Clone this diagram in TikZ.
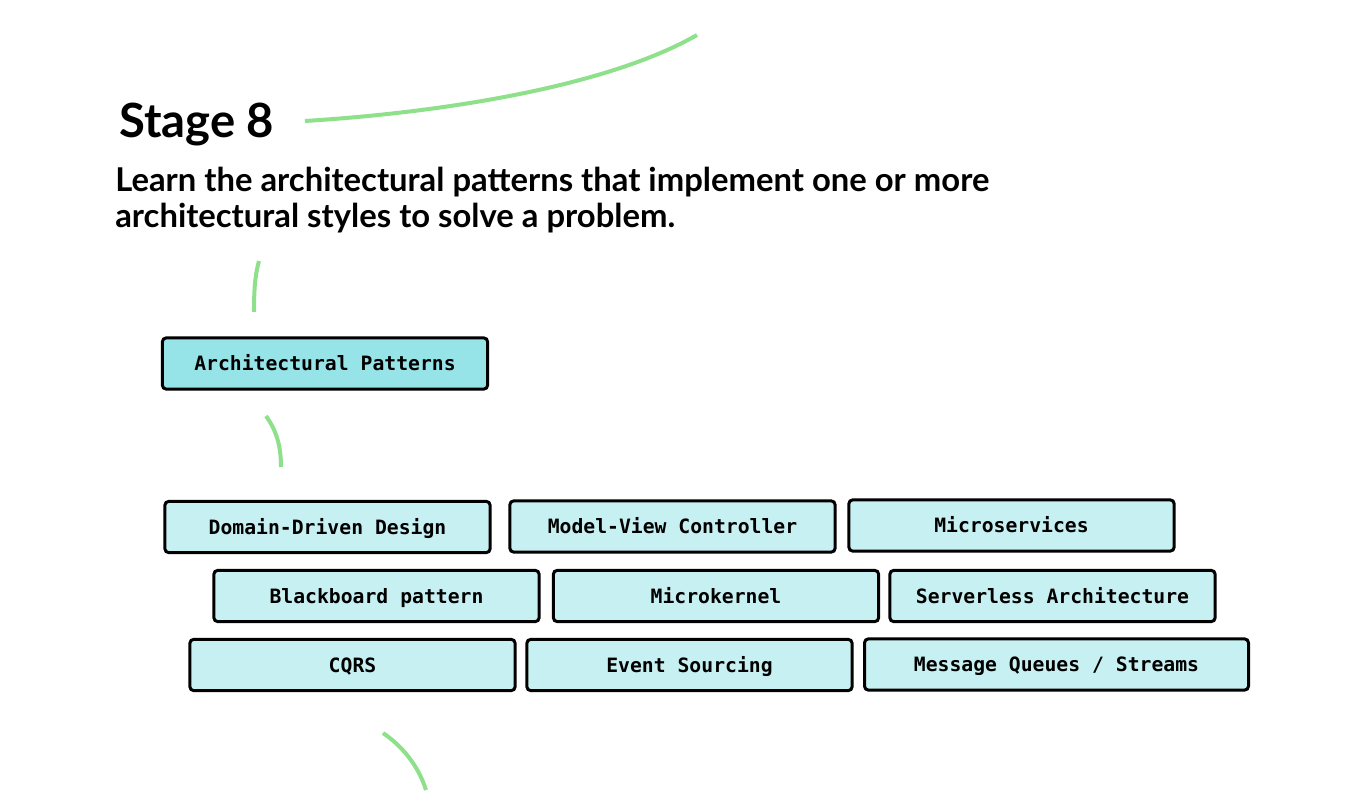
\documentclass[tikz,border=0pt]{standalone}
\usepackage{fontspec}
\setmainfont{Lato}
\setmonofont{DejaVu Sans Mono}
\definecolor{topicfill}{HTML}{96E3E8}
\definecolor{itemfill}{HTML}{C7F0F2}
\definecolor{pathgreen}{HTML}{8EE08A}
\tikzset{
  topicbox/.style={draw=black, line width=2.25pt, rounded corners=3pt, fill=topicfill,
    minimum width=244pt, minimum height=38.5pt, inner sep=0pt,
    text height=13pt, text depth=2.2pt,
    font=\ttfamily\bfseries\fontsize{14.8}{16}\selectfont},
  itembox/.style={topicbox, fill=itemfill},
  pathline/.style={pathgreen, line width=3pt}
}
\begin{document}
\begin{tikzpicture}[x=0.75pt,y=-0.75pt]
  \useasboundingbox (0,0) rectangle (1350,812);
  % heading
  \node [anchor=base west, inner sep=0pt, font=\bfseries\fontsize{35.4}{40}\selectfont] (stage) at (119,138) {Stage 8};
  \node [anchor=base west, inner sep=0pt, font=\bfseries\fontsize{24.6}{28}\selectfont] (desc1) at (115,192) {Learn the architectural patterns that implement one or more};
  \node [anchor=base west, inner sep=0pt, font=\bfseries\fontsize{24.6}{28}\selectfont] (desc2) at (115,228) {architectural styles to solve a problem.};
  % path pieces
  \draw [pathline] (305,121) .. controls (450,112) and (610,85) .. (697,35);
  \draw [pathline] (259,261) .. controls (255,275) and (254,290) .. (254,312);
  \draw [pathline] (266,416) .. controls (276,430) and (281,445) .. (281,467);
  \draw [pathline] (383,733) .. controls (402,746) and (418,765) .. (426,790);
  % topic
  \node [topicbox] (arch) at (325,363.5) {Architectural Patterns};
  % patterns
  \node [itembox] (ddd) at (327.5,527) {Domain-Driven Design};
  \node [itembox] (mvc) at (672.5,526.5) {Model-View Controller};
  \node [itembox] (micro) at (1011.5,525.5) {Microservices};
  \node [itembox] (black) at (376.5,596) {Blackboard pattern};
  \node [itembox] (kernel) at (716,596) {Microkernel};
  \node [itembox] (serverless) at (1052.5,596) {Serverless Architecture};
  \node [itembox] (cqrs) at (352.5,665) {CQRS};
  \node [itembox] (events) at (689.5,665) {Event Sourcing};
  \node [itembox, minimum width=288pt] (queues) at (1056.5,664.5) {Message Queues / Streams};
\end{tikzpicture}
\end{document}
